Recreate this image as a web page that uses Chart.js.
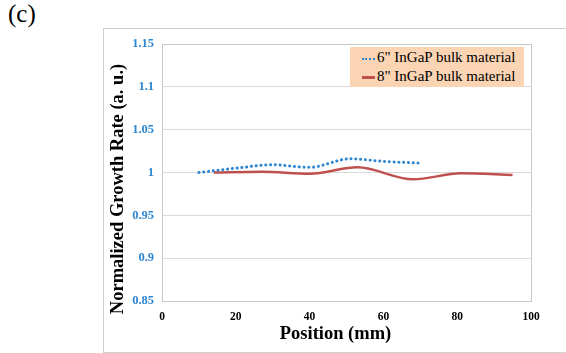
<!DOCTYPE html>
<html>
<head>
<meta charset="utf-8">
<script src="https://cdn.jsdelivr.net/npm/chart.js@4"></script>
<style>
  body { margin: 0; width: 566px; height: 353px; background: #fff; overflow: hidden; position: relative; }
  #frame { position: absolute; left: 103px; top: 28px; width: 480px; height: 323px; border: 1px solid #cfcfcf; box-shadow: 1px 1px 1px #e4e4e4; }
  #label { position: absolute; left: 8px; top: 0px; font: 25px "Liberation Serif", serif; color: #000; }
  #chartBox { position: absolute; left: 0; top: 0; width: 566px; height: 353px; }
  #legend { position: absolute; left: 350px; top: 47px; width: 174px; height: 40px; background: #fbd4b4;
            font: 15px "Liberation Serif", serif; color: #000; }
  #legend div { position: absolute; left: 12px; white-space: nowrap; }
  #legend span.mk { display: inline-block; width: 13px; vertical-align: middle; margin-right: 2px; }
</style>
</head>
<body>
<div id="frame"></div>
<div id="label">(c)</div>
<div id="chartBox"><canvas id="chart" width="566" height="353"></canvas></div>
<div id="legend">
  <div style="top:2px"><span class="mk" style="border-top:2px dotted #2e86d1"></span>6" InGaP bulk material</div>
  <div style="top:21px"><span class="mk" style="border-top:3px solid #c0504d"></span>8" InGaP bulk material</div>
</div>
<script>
// Dados
const pos6 = [10, 20, 30, 40, 51, 60, 70];
const rate6 = [1.000, 1.005, 1.009, 1.006, 1.016, 1.013, 1.011];
const pos8 = [14, 27, 40, 53, 68, 81, 95];
const rate8 = [1.000, 1.001, 0.9985, 1.006, 0.992, 0.999, 0.997];
const yTicks = [0.85, 0.9, 0.95, 1, 1.05, 1.1, 1.15];
const xTicks = [0, 20, 40, 60, 80, 100];
const names = ['6" InGaP bulk material', '8" InGaP bulk material'];

function toPoints(xs, ys) {
    return xs.map((x, i) => ({ x: x, y: ys[i] }));
}

// Títulos dos eixos desenhados à parte (posição do original não é centrada)
const titlesPlugin = {
    id: 'axisTitles',
    afterDraw(chart) {
        const ctx = chart.ctx;
        ctx.save();
        ctx.fillStyle = '#000';
        ctx.textAlign = 'center';
        ctx.textBaseline = 'middle';
        ctx.font = 'bold 18.5px "Liberation Serif", serif';
        ctx.fillText('Position (mm)', 335.5, 334);
        ctx.translate(118, 189);
        ctx.rotate(-Math.PI / 2);
        ctx.fillText('Normalized Growth Rate (a. u.)', 0, 0);
        ctx.restore();
    }
};

// Borda da área do gráfico
const borderPlugin = {
    id: 'plotBorder',
    beforeDatasetsDraw(chart) {
        const { ctx, chartArea: a } = chart;
        ctx.save();
        ctx.strokeStyle = '#c8c8c8';
        ctx.lineWidth = 1;
        ctx.strokeRect(a.left + 0.5, a.top + 0.5, a.right - a.left, a.bottom - a.top);
        ctx.restore();
    }
};

new Chart(document.getElementById('chart'), {
    type: 'line',
    data: {
        datasets: [{
            label: names[0],
            data: toPoints(pos6, rate6),
            borderColor: '#2e86d1',
            borderWidth: 3,
            borderDash: [0.1, 4.7],
            borderCapStyle: 'round',
            pointRadius: 0,
            cubicInterpolationMode: 'monotone',
            fill: false
        }, {
            label: names[1],
            data: toPoints(pos8, rate8),
            borderColor: '#c0504d',
            borderWidth: 2.5,
            pointRadius: 0,
            cubicInterpolationMode: 'monotone',
            fill: false
        }]
    },
    options: {
        responsive: false,
        animation: false,
        layout: { padding: { left: 100, top: 44, right: 35, bottom: 4 } },
        plugins: { legend: { display: false }, tooltip: { enabled: false } },
        scales: {
            x: {
                type: 'linear',
                min: 0, max: 100,
                afterFit: s => { s.height = 48; },
                afterBuildTicks: s => { s.ticks = xTicks.map(v => ({ value: v })); },
                grid: { display: false, drawTicks: false },
                border: { display: false },
                ticks: {
                    padding: 9,
                    color: '#000',
                    font: { family: '"Liberation Serif", serif', size: 11.5, weight: 'bold' }
                }
            },
            y: {
                min: 0.85, max: 1.15,
                afterFit: s => { s.width = 62; },
                afterBuildTicks: s => { s.ticks = yTicks.map(v => ({ value: v })); },
                grid: { color: '#dadada', drawTicks: false },
                border: { display: false },
                ticks: {
                    padding: 8,
                    color: '#2e86d1',
                    font: { family: '"Liberation Serif", serif', size: 12.5, weight: 'bold' },
                    callback: v => String(Math.round(v * 100) / 100)
                }
            }
        }
    },
    plugins: [borderPlugin, titlesPlugin]
});
</script>
</body>
</html>
